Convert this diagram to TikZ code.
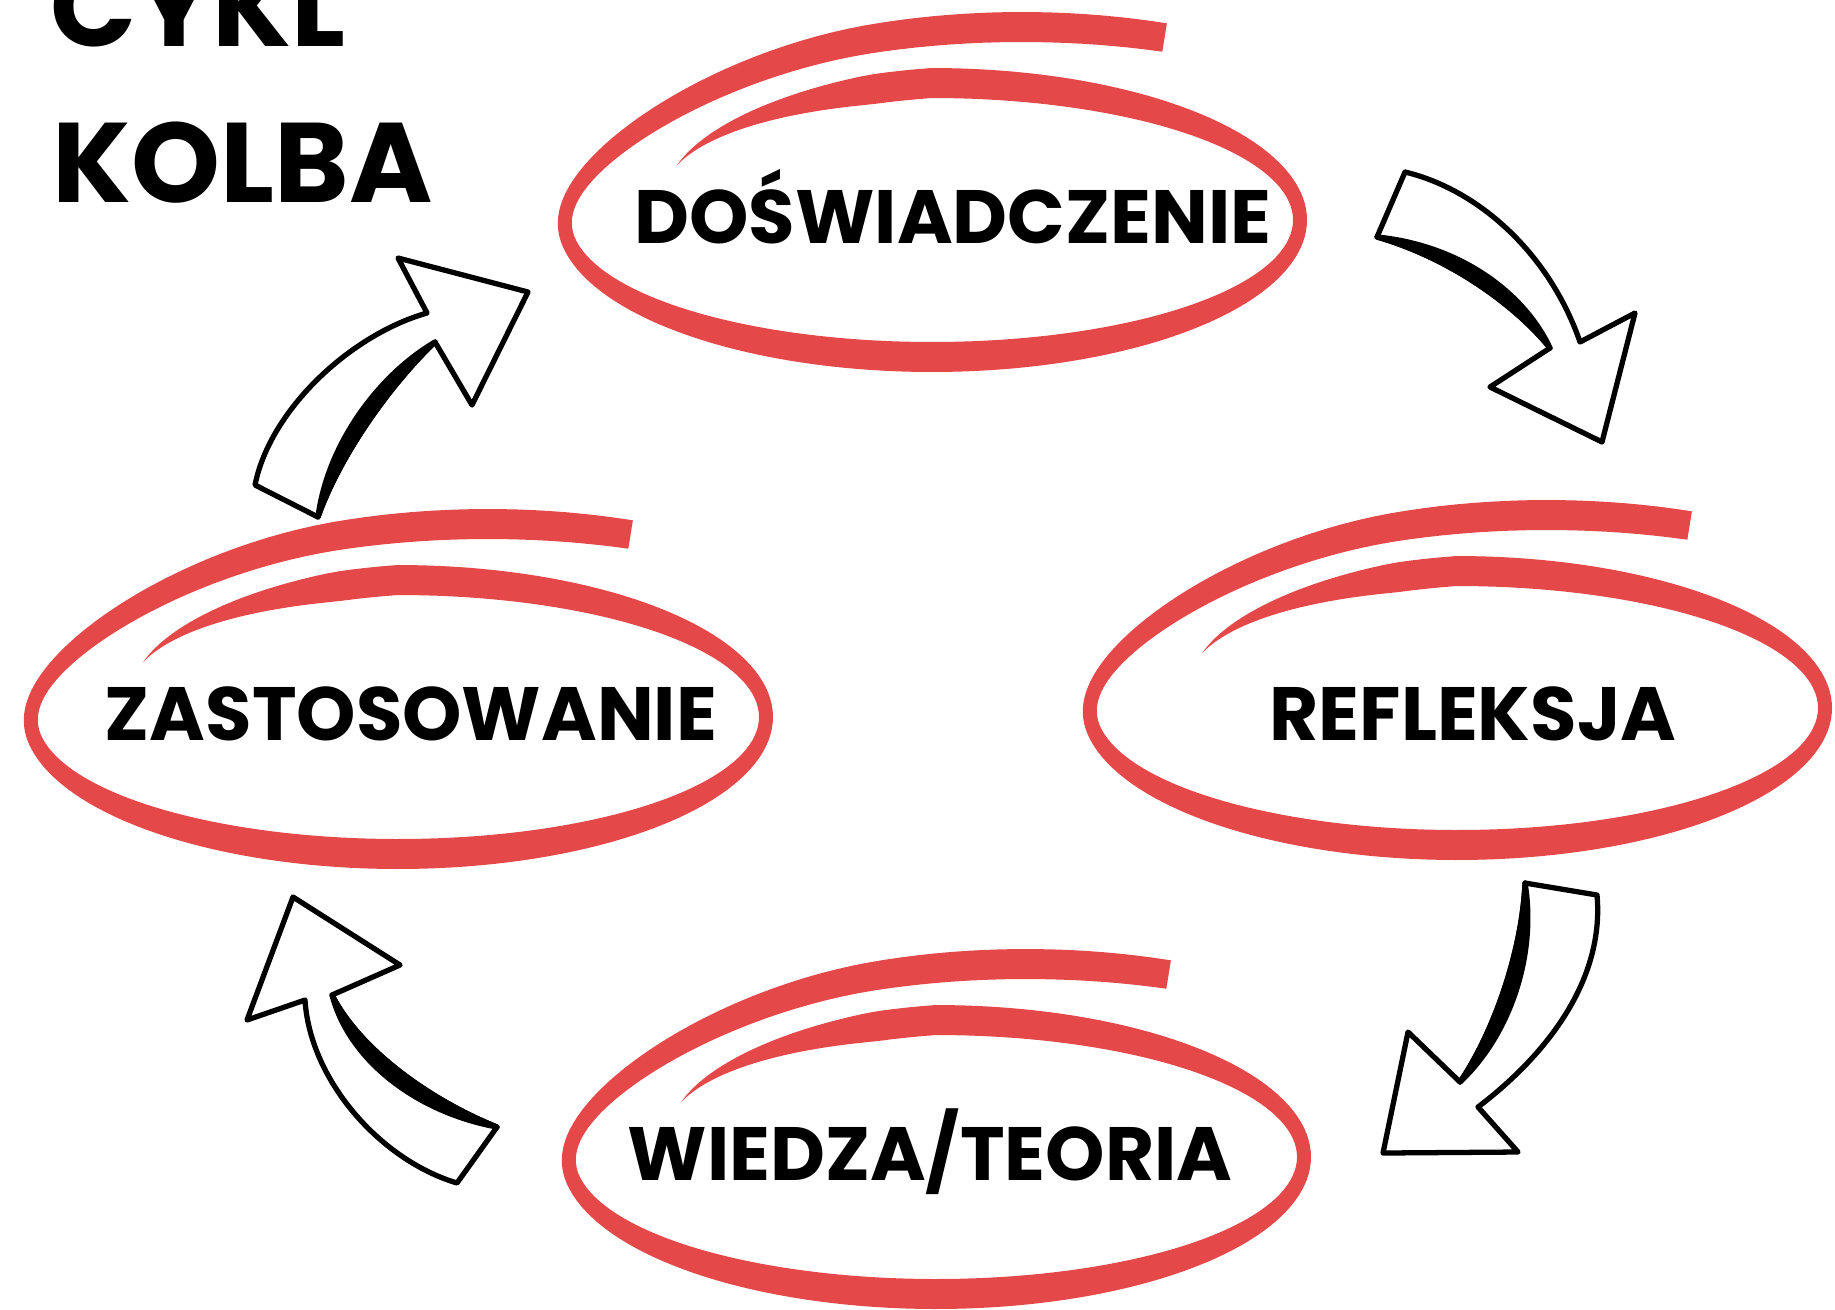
\documentclass[tikz,border=0pt]{standalone}
\usepackage{fontspec}
\setmainfont{Poppins}
\usepackage{xcolor}
\usepackage{tikz}
\usetikzlibrary{arrows.meta,calc,positioning}

\definecolor{loopred}{RGB}{229,72,72}

\tikzset{
  declare function={
    grow(\t)=min(1,max(0,(-170-\t)/80));
    ease(\t)=grow(\t)*grow(\t)*(3-2*grow(\t));
    shrink(\t)=1-0.2*min(1,max(0,(\t-90)/60));
    taper(\t)=min(1,max(0,(150-\t)/50));
    loopx(\t)=(368*shrink(\t)+70*ease(\t))*cos(\t)+90*ease(\t);
    loopy(\t)=(137*shrink(\t)+56*ease(\t))*sin(\t);
  },
  title/.style={font=\bfseries\fontsize{32.2pt}{44pt}\selectfont,inner sep=0pt,anchor=base west},
  stage/.style={font=\bfseries\fontsize{21.5pt}{25pt}\selectfont,inner sep=0pt,anchor=base},
  blockarrow/.style={draw=black,fill=white,line width=1.5pt,line join=round},
  heavyedge/.style={fill=black,draw=black,line width=1.5pt,line join=round}
}

% hand drawn red loop round a stage
\newcommand{\brushloop}[1]{%
  \fill[loopred,shift={(#1)}]
    plot[domain=150:-289,samples=200,variable=\t]
      ({loopx(\t)+7*taper(\t)*cos(\t)},{-(loopy(\t)+15*taper(\t)*sin(\t))})
    -- plot[domain=-289:150,samples=200,variable=\t]
      ({loopx(\t)-7*taper(\t)*cos(\t)},{-(loopy(\t)-15*taper(\t)*sin(\t))})
    -- cycle;}

\begin{document}
\begin{tikzpicture}[x=0.1mm,y=-0.1mm]
  \useasboundingbox (0,0) rectangle (1835,1309);

  \node[title] (cykl) at (50,46) {CYKL};
  \node[title] (kolba) at (52,202) {KOLBA};

  \coordinate (Dc) at (932,220);
  \coordinate (Rc) at (1457,708);
  \coordinate (Zc) at (398,717);
  \coordinate (Wc) at (936,1157);
  \brushloop{Dc}
  \brushloop{Rc}
  \brushloop{Zc}
  \brushloop{Wc}

  \node[stage] (D) at (953,243) {DOŚWIADCZENIE};
  \node[stage] (R) at (1473,740) {REFLEKSJA};
  \node[stage] (Z) at (411,740) {ZASTOSOWANIE};
  \node[stage] (W) at (930,1180) {WIEDZA/TEORIA};

  % D -> R
  \draw[blockarrow] (1405,172) .. controls (1480,190) and (1550,255) .. (1580,342)
    -- (1635,313) -- (1602,442) -- (1490,387) -- (1550,348)
    .. controls (1515,305) and (1450,258) .. (1377,237) -- cycle;
  \draw[heavyedge] (1550,348) .. controls (1515,305) and (1450,258) .. (1377,237)
    .. controls (1459,245) and (1524,292) .. cycle;

  % R -> W
  \draw[blockarrow] (1525,883) -- (1597,895) .. controls (1605,985) and (1540,1060) .. (1478,1107)
    -- (1518,1152) -- (1383,1153) -- (1408,1032) -- (1460,1082)
    .. controls (1495,1030) and (1522,950) .. (1525,883) -- cycle;
  \draw[heavyedge] (1460,1082) .. controls (1495,1030) and (1522,950) .. (1525,883)
    .. controls (1537,955) and (1510,1035) .. cycle;

  % W -> Z
  \draw[blockarrow] (457,1183) .. controls (380,1160) and (310,1080) .. (305,1000)
    -- (247,1020) -- (293,897) -- (400,965) -- (332,995)
    .. controls (360,1050) and (430,1100) .. (497,1127) -- cycle;
  \draw[heavyedge] (332,995) .. controls (360,1050) and (430,1100) .. (497,1127)
    .. controls (420,1113) and (350,1063) .. cycle;

  % Z -> D
  \draw[blockarrow] (255,485) .. controls (270,410) and (350,335) .. (427,313)
    -- (398,258) -- (528,292) -- (472,405) -- (435,342)
    .. controls (390,385) and (340,455) .. (318,517) -- cycle;
  \draw[heavyedge] (435,342) .. controls (390,385) and (340,455) .. (318,517)
    .. controls (327,446) and (377,376) .. cycle;
\end{tikzpicture}
\end{document}
